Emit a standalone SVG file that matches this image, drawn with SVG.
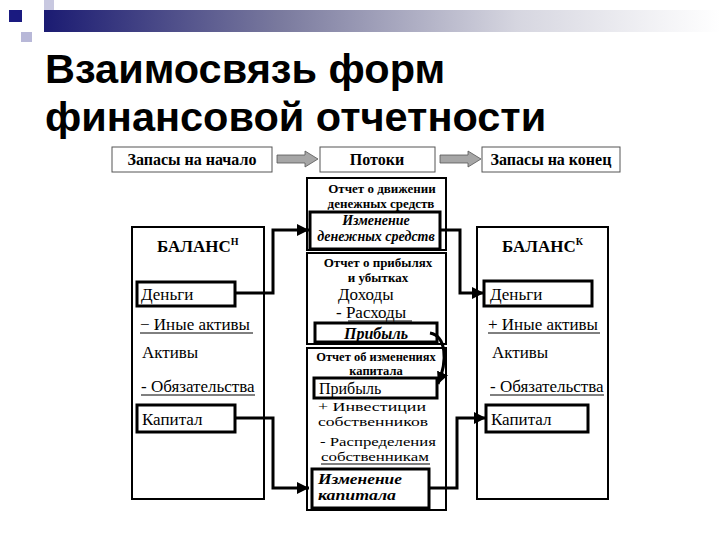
<svg xmlns="http://www.w3.org/2000/svg" width="720" height="540" viewBox="0 0 720 540">
<defs>
<linearGradient id="bar" x1="0" y1="0" x2="1" y2="0">
<stop offset="0" stop-color="#1b1b72"/>
<stop offset="0.35" stop-color="#7a7a9e"/>
<stop offset="0.7" stop-color="#d6d6e0"/>
<stop offset="1" stop-color="#ffffff"/>
</linearGradient>
<marker id="ah" viewBox="0 0 10 10" refX="10" refY="5" markerWidth="12" markerHeight="12" markerUnits="userSpaceOnUse" orient="auto">
<path d="M0,0 L10,5 L0,10 z" fill="#000"/>
</marker>
</defs>
<style>
.s{font-family:'Liberation Serif','Times New Roman',serif}
.b{font-weight:bold}
.i{font-style:italic}
.box{fill:#fff;stroke:#000;stroke-width:2}
.thick{fill:#fff;stroke:#000;stroke-width:3}
.hdr{fill:#fff;stroke:#555;stroke-width:1}
.garr{fill:#a6a6a6;stroke:#555;stroke-width:0.8}
.con{fill:none;stroke:#000;stroke-width:3}
.ul{stroke:#000;stroke-width:1}
</style>
<rect width="720" height="540" fill="#fff"/>
<g id="decor">
<rect x="44" y="0" width="10" height="22" fill="#c8c8e0"/>
<rect x="21" y="32" width="11" height="10" fill="#b8b8d8"/>
<rect x="44" y="10" width="676" height="22" fill="url(#bar)"/>
<rect x="9" y="10" width="13" height="12" fill="#1a1a80"/>
</g>
<g id="title" font-family="'Liberation Sans', Arial, sans-serif" font-weight="bold" font-size="41.5" fill="#000">
<text x="45" y="83">Взаимосвязь форм</text>
<text x="45" y="131">финансовой отчетности</text>
</g>
<g class="s" fill="#000">
<g id="hdr-start">
<rect class="hdr" x="112" y="147" width="160" height="25"/>
<text class="s b" x="192" y="165" font-size="16" text-anchor="middle">Запасы на начало</text>
</g>
<g id="hdr-flows">
<rect class="hdr" x="320" y="147" width="115" height="25"/>
<text class="s b" x="377" y="165" font-size="16" text-anchor="middle">Потоки</text>
</g>
<g id="hdr-end">
<rect class="hdr" x="482" y="147" width="138" height="25"/>
<text class="s b" x="551" y="165" font-size="16" text-anchor="middle">Запасы на конец</text>
</g>
<g id="hdr-arrows">
<path class="garr" d="M277,155 H305 V151 L318,159 L305,167 V163 H277 Z"/>
<path class="garr" d="M440,155 H468 V151 L481,159 L468,167 V163 H440 Z"/>
</g>
<g id="balance-start">
<rect class="box" x="132" y="227" width="132" height="272"/>
<text class="s b" x="157" y="252" font-size="17">БАЛАНС<tspan font-size="10" dy="-7">Н</tspan></text>
<rect class="thick" x="137" y="282" width="98" height="24"/>
<text class="s" x="141" y="300" font-size="17">Деньги</text>
<text class="s" x="140" y="330" font-size="17">− Иные активы</text>
<line class="ul" x1="140" y1="333" x2="253" y2="333"/>
<text class="s" x="142" y="358" font-size="17">Активы</text>
<text class="s" x="141" y="392" font-size="17">- Обязательства</text>
<line class="ul" x1="141" y1="395" x2="255" y2="395"/>
<rect class="thick" x="137" y="405" width="98" height="27"/>
<text class="s" x="142" y="425" font-size="17">Капитал</text>
</g>
<g id="balance-end">
<rect class="box" x="477" y="227" width="131" height="272"/>
<text class="s b" x="502" y="252" font-size="17">БАЛАНС<tspan font-size="10" dy="-7">К</tspan></text>
<rect class="thick" x="484" y="281" width="108" height="25"/>
<text class="s" x="490" y="300" font-size="17">Деньги</text>
<text class="s" x="488" y="330" font-size="17">+ Иные активы</text>
<line class="ul" x1="488" y1="333" x2="600" y2="333"/>
<text class="s" x="492" y="358" font-size="17">Активы</text>
<text class="s" x="490" y="392" font-size="17">- Обязательства</text>
<line class="ul" x1="490" y1="395" x2="604" y2="395"/>
<rect class="thick" x="486" y="405" width="102" height="27"/>
<text class="s" x="491" y="425" font-size="17">Капитал</text>
</g>
<g id="cashflow">
<rect class="box" x="307" y="178" width="139" height="72"/>
<text class="s b" x="382" y="193" font-size="13" text-anchor="middle">Отчет о движении</text>
<text class="s b" x="381" y="208" font-size="13" text-anchor="middle">денежных средств</text>
<rect class="thick" x="310" y="212" width="130" height="37"/>
<text class="s b i" x="376" y="225" font-size="14" text-anchor="middle">Изменение</text>
<text class="s b i" x="376" y="241" font-size="14" text-anchor="middle">денежных средств</text>
</g>
<g id="pnl">
<rect class="box" x="307" y="253" width="139" height="91"/>
<text class="s b" x="378" y="267" font-size="13" text-anchor="middle">Отчет о прибылях</text>
<text class="s b" x="378" y="282" font-size="13" text-anchor="middle">и убытках</text>
<text class="s" x="338" y="300" font-size="17">Доходы</text>
<text class="s" x="336" y="318" font-size="17">-  Расходы</text>
<line class="ul" x1="348" y1="321" x2="412" y2="321"/>
<rect class="thick" x="315" y="323" width="122" height="19"/>
<text class="s b i" x="376" y="339" font-size="16" text-anchor="middle">Прибыль</text>
</g>
<g id="equity">
<rect class="box" x="307" y="348" width="139" height="162"/>
<text class="s b" x="376" y="361" font-size="12.5" text-anchor="middle">Отчет об изменениях</text>
<text class="s b" x="376" y="375" font-size="12.5" text-anchor="middle">капитала</text>
<rect class="thick" x="314" y="378" width="123" height="20"/>
<text class="s" x="319" y="394" font-size="16">Прибыль</text>
<text class="s" x="318" y="411" font-size="13.5" textLength="108" lengthAdjust="spacingAndGlyphs">+ Инвестиции</text>
<text class="s" x="318" y="426" font-size="13.5" textLength="110" lengthAdjust="spacingAndGlyphs">собственников</text>
<text class="s" x="320" y="446" font-size="13.5" textLength="116" lengthAdjust="spacingAndGlyphs">- Распределения</text>
<text class="s" x="321" y="461" font-size="13.5" textLength="108" lengthAdjust="spacingAndGlyphs">собственникам</text>
<line class="ul" x1="321" y1="464" x2="430" y2="464"/>
<rect class="thick" x="312" y="469" width="117" height="39"/>
<text class="s b i" x="318" y="484" font-size="14" textLength="84" lengthAdjust="spacingAndGlyphs">Изменение</text>
<text class="s b i" x="318" y="500" font-size="14" textLength="78" lengthAdjust="spacingAndGlyphs">капитала</text>
</g>
</g>
<g id="connectors">
<polyline class="con" points="235,293 273,293 273,230 309,230" marker-end="url(#ah)"/>
<polyline class="con" points="235,418 273,418 273,488 309,488" marker-end="url(#ah)"/>
<polyline class="con" points="440,230 460,230 460,293 484,293" marker-end="url(#ah)"/>
<polyline class="con" points="429,488 457,488 457,418 486,418" marker-end="url(#ah)"/>
<path class="con" d="M430,333 C446,336 448,360 438,384" marker-end="url(#ah)"/>
</g>
</svg>
